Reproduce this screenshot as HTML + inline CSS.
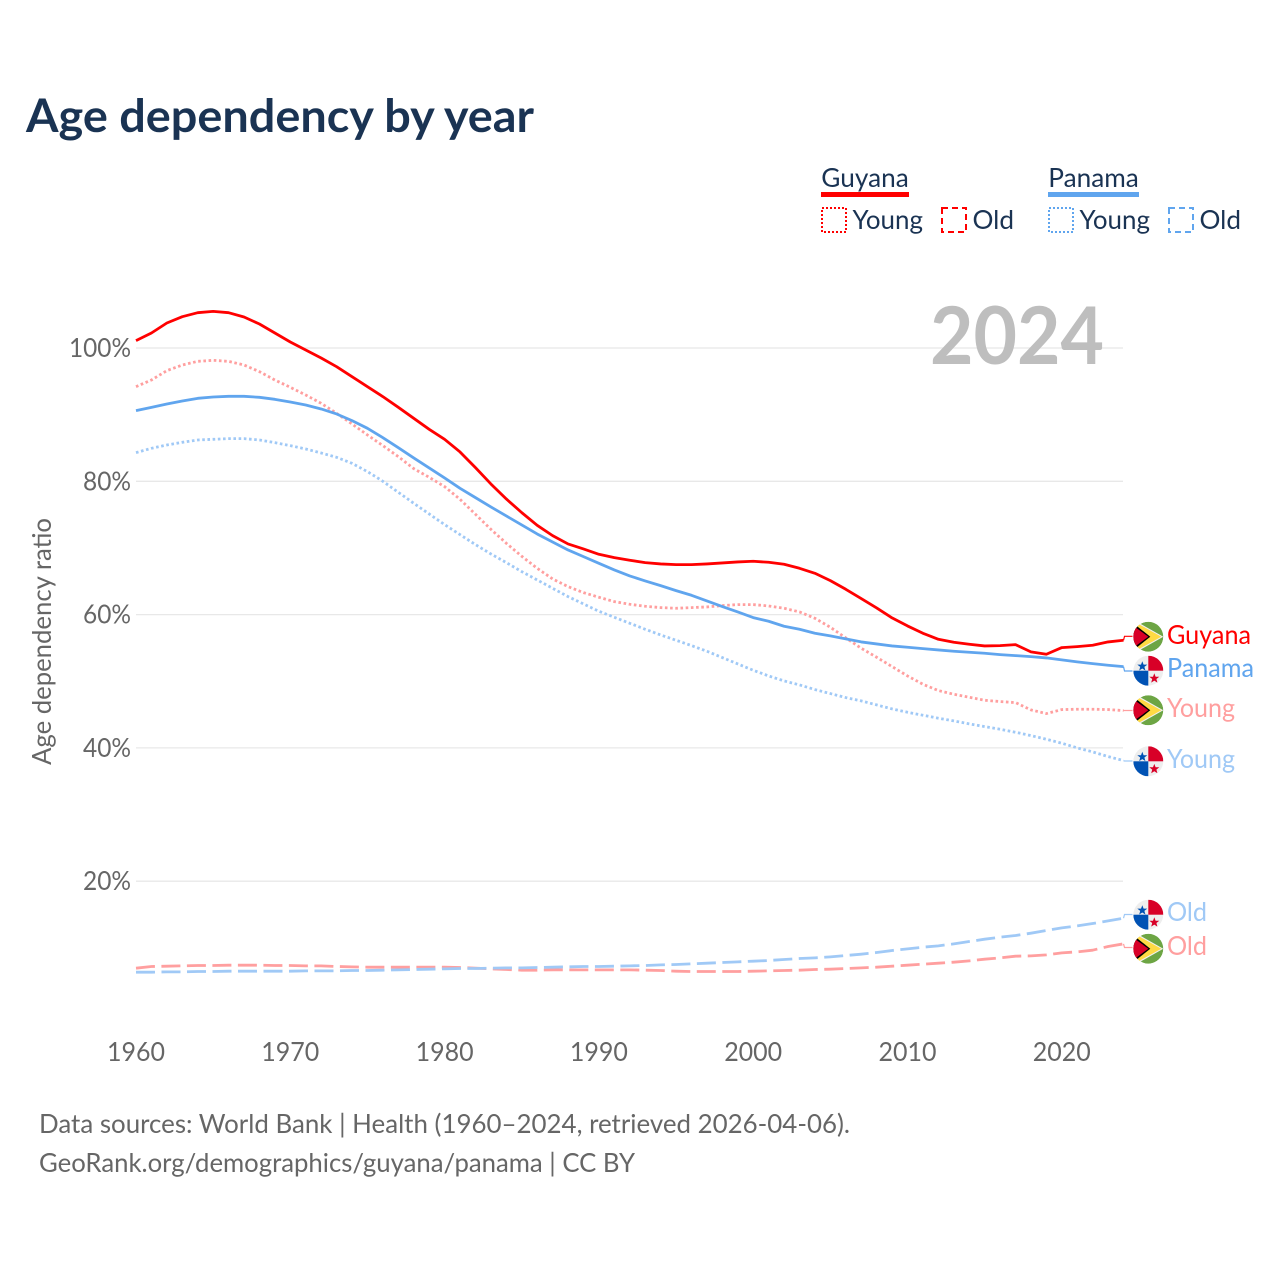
<!DOCTYPE html>
<html lang="en">
<head>
<meta charset="utf-8">
<title>Age dependency by year</title>
<style>
html,body{margin:0;padding:0;background:#fff;}
svg{display:block;}
text{font-family:"Lato","Carlito","Liberation Sans",sans-serif;}
</style>
</head>
<body>
<svg id="chart" xmlns="http://www.w3.org/2000/svg" width="1280" height="1280" viewBox="0 0 1280 1280">
  <defs>
    <clipPath id="flag-clip"><circle cx="0" cy="0" r="15"/></clipPath>
    <g id="flag-guyana" clip-path="url(#flag-clip)">
      <circle r="15" fill="#6da544"/>
      <path d="M-15 -17 L15 0 L-15 17 Z" fill="#f0f0f0"/>
      <path d="M-14 -15 L13 0 L-14 15 Z" fill="#ffda44"/>
      <path d="M-15 -13.5 L2 0 L-15 13.5 Z" fill="#000"/>
      <path d="M-15 -11 L0 0 L-15 11 Z" fill="#d80027"/>
    </g>
    <g id="flag-panama" clip-path="url(#flag-clip)">
      <circle r="15" fill="#eeeeee"/>
      <rect x="0" y="-15" width="15" height="15" fill="#d80027"/>
      <rect x="-15" y="0" width="15" height="15" fill="#0052b4"/>
      <path d="M-6 -9.5 L-4.7 -6.1 L-1 -6.1 L-3.9 -3.8 L-2.9 -0.2 L-6 -2.2 L-9.1 -0.2 L-8.1 -3.8 L-11 -6.1 L-7.3 -6.1 Z" fill="#0052b4"/>
      <path d="M6 2.6 L7.3 6 L11 6 L8.1 8.3 L9.1 11.9 L6 9.9 L2.9 11.9 L3.9 8.3 L1 6 L4.7 6 Z" fill="#d80027"/>
    </g>
  </defs>

  <rect x="0" y="0" width="1280" height="1280" fill="#ffffff"/>

  <text x="26" y="132" font-size="46" font-weight="700" fill="#1a3353" textLength="508" lengthAdjust="spacingAndGlyphs">Age dependency by year</text>

  <g>
    <text x="821.3" y="187" font-size="26" fill="#1a3353" textLength="87.5" lengthAdjust="spacingAndGlyphs">Guyana</text>
    <rect x="821" y="192" width="88" height="5" fill="#ff0000"/>
    <rect x="822" y="208" width="24" height="24" fill="none" stroke="#ff0000" stroke-width="2" stroke-dasharray="2 2"/>
    <text x="852.5" y="229" font-size="26" fill="#1a3353" textLength="70.5" lengthAdjust="spacingAndGlyphs">Young</text>
    <rect x="942" y="208" width="24" height="24" fill="none" stroke="#ff0000" stroke-width="2" stroke-dasharray="6 4"/>
    <text x="972.5" y="229" font-size="26" fill="#1a3353" textLength="41.5" lengthAdjust="spacingAndGlyphs">Old</text>

    <text x="1048.3" y="187" font-size="26" fill="#1a3353" textLength="90.5" lengthAdjust="spacingAndGlyphs">Panama</text>
    <rect x="1048" y="192" width="91" height="5" fill="#60a5ee"/>
    <rect x="1049" y="208" width="24" height="24" fill="none" stroke="#60a5ee" stroke-width="2" stroke-dasharray="2 2"/>
    <text x="1079.5" y="229" font-size="26" fill="#1a3353" textLength="70.5" lengthAdjust="spacingAndGlyphs">Young</text>
    <rect x="1169" y="208" width="24" height="24" fill="none" stroke="#60a5ee" stroke-width="2" stroke-dasharray="6 4"/>
    <text x="1199.5" y="229" font-size="26" fill="#1a3353" textLength="41.5" lengthAdjust="spacingAndGlyphs">Old</text>
  </g>

  <g id="grid"></g>
  <g id="y-ticks"></g>
  <g id="x-ticks"></g>

  <text x="930" y="364" font-size="80" font-weight="700" fill="#bebebe" textLength="174" lengthAdjust="spacingAndGlyphs">2024</text>

  <text transform="translate(51 765) rotate(-90)" x="0" y="0" font-size="26" fill="#666666" textLength="247" lengthAdjust="spacingAndGlyphs">Age dependency ratio</text>

  <g id="series"></g>

  <g>
    <use href="#flag-guyana" x="1148.3" y="636.7"/>
    <use href="#flag-panama" x="1148.3" y="670.7"/>
    <use href="#flag-guyana" x="1148.3" y="710.3"/>
    <use href="#flag-panama" x="1148.3" y="761.3"/>
    <use href="#flag-panama" x="1148.3" y="914.7"/>
    <use href="#flag-guyana" x="1148.3" y="948.7"/>
    <text x="1167" y="644" font-size="26" fill="#ff0000" textLength="84" lengthAdjust="spacingAndGlyphs">Guyana</text>
    <text x="1167" y="677" font-size="26" fill="#60a5ee" textLength="87" lengthAdjust="spacingAndGlyphs">Panama</text>
    <text x="1167" y="717" font-size="26" fill="#ff9f9f" textLength="68" lengthAdjust="spacingAndGlyphs">Young</text>
    <text x="1167" y="768" font-size="26" fill="#a0c9f6" textLength="68" lengthAdjust="spacingAndGlyphs">Young</text>
    <text x="1167" y="921" font-size="26" fill="#a0c9f6" textLength="40" lengthAdjust="spacingAndGlyphs">Old</text>
    <text x="1167" y="955" font-size="26" fill="#ff9f9f" textLength="40" lengthAdjust="spacingAndGlyphs">Old</text>
  </g>

  <text x="39" y="1133" font-size="26" fill="#666666" textLength="811" lengthAdjust="spacingAndGlyphs">Data sources: World Bank | Health (1960–2024, retrieved 2026-04-06).</text>
  <text x="39" y="1172" font-size="26" fill="#666666" textLength="596" lengthAdjust="spacingAndGlyphs">GeoRank.org/demographics/guyana/panama | CC BY</text>
</svg>

<script>
const startYear = 1960;
const yearTicks = [1960, 1970, 1980, 1990, 2000, 2010, 2020];
const percentTicks = [20, 40, 60, 80, 100];

const guyanaTotal = [101.1,102.25,103.75,104.7,105.3,105.5,105.3,104.65,103.6,102.25,100.9,99.7,98.5,97.2,95.7,94.2,92.7,91.1,89.45,87.8,86.3,84.4,82.05,79.6,77.35,75.3,73.4,71.85,70.6,69.85,69.05,68.55,68.15,67.8,67.6,67.5,67.5,67.6,67.75,67.9,68.0,67.85,67.55,66.95,66.2,65.1,63.8,62.4,61.0,59.5,58.3,57.2,56.3,55.85,55.55,55.3,55.35,55.5,54.4,54.05,55.05,55.2,55.4,55.9,56.15];
const panamaTotal = [90.6,91.1,91.6,92.05,92.45,92.65,92.75,92.75,92.6,92.3,91.9,91.45,90.85,90.1,89.1,87.95,86.55,85.05,83.5,82.0,80.5,78.95,77.55,76.15,74.8,73.45,72.1,70.9,69.7,68.7,67.7,66.7,65.8,65.05,64.35,63.6,62.9,62.05,61.2,60.4,59.55,59.0,58.25,57.8,57.2,56.8,56.35,55.9,55.6,55.3,55.1,54.9,54.7,54.5,54.35,54.2,54.0,53.85,53.7,53.5,53.2,52.9,52.65,52.4,52.2];
const guyanaYoung = [94.2,95.2,96.6,97.45,98.0,98.15,98.0,97.45,96.45,95.2,94.1,92.95,91.7,90.2,88.6,86.95,85.35,83.7,81.9,80.6,79.2,77.3,75.05,72.8,70.7,68.75,66.95,65.35,64.2,63.3,62.6,61.95,61.55,61.25,61.05,60.95,61.05,61.15,61.35,61.5,61.5,61.3,60.95,60.4,59.45,58.1,56.5,54.95,53.6,52.2,50.8,49.55,48.6,48.05,47.6,47.15,46.95,46.8,45.7,45.15,45.75,45.8,45.8,45.75,45.6];
const panamaYoung = [84.3,84.95,85.45,85.85,86.2,86.3,86.4,86.4,86.2,85.8,85.35,84.85,84.25,83.6,82.7,81.45,80.0,78.35,76.7,75.1,73.5,72.0,70.5,69.1,67.8,66.45,65.2,63.95,62.7,61.6,60.5,59.6,58.7,57.8,56.95,56.15,55.35,54.5,53.55,52.6,51.65,50.8,50.05,49.45,48.75,48.15,47.55,47.05,46.45,45.85,45.35,44.9,44.45,44.05,43.6,43.2,42.8,42.35,41.85,41.3,40.7,40.0,39.4,38.7,38.1];
const guyanaOld = [6.95,7.2,7.25,7.3,7.35,7.35,7.4,7.4,7.4,7.35,7.35,7.3,7.3,7.2,7.15,7.1,7.1,7.1,7.1,7.1,7.1,7.05,6.95,6.85,6.75,6.65,6.65,6.7,6.7,6.7,6.7,6.7,6.7,6.65,6.6,6.5,6.45,6.45,6.45,6.45,6.5,6.55,6.6,6.65,6.75,6.8,6.9,7.0,7.1,7.25,7.4,7.55,7.7,7.85,8.05,8.3,8.5,8.75,8.8,8.95,9.25,9.4,9.65,10.2,10.6];
const panamaOld = [6.35,6.35,6.4,6.4,6.45,6.45,6.5,6.5,6.5,6.5,6.5,6.55,6.55,6.55,6.6,6.6,6.65,6.7,6.75,6.8,6.85,6.9,6.9,6.95,7.0,7.0,7.05,7.1,7.15,7.2,7.2,7.25,7.3,7.35,7.45,7.5,7.6,7.7,7.8,7.9,8.0,8.1,8.25,8.4,8.5,8.65,8.85,9.05,9.3,9.6,9.85,10.1,10.3,10.6,10.95,11.3,11.6,11.85,12.2,12.6,13.0,13.3,13.65,14.05,14.45];

const svgNS = "http://www.w3.org/2000/svg";
function xScale(year) { return 136 + (year - 1960) * 15.43; }
function yScale(pct) { return 1014.5 - pct * 6.665; }

const gridLayer = document.getElementById("grid");
const yLayer = document.getElementById("y-ticks");
const xLayer = document.getElementById("x-ticks");
const seriesLayer = document.getElementById("series");

percentTicks.forEach(function (tick) {
  const line = document.createElementNS(svgNS, "line");
  
  
  line.setAttribute("x1", 136);
  line.setAttribute("x2", 1123);
  line.setAttribute("y1", yScale(tick));
  line.setAttribute("y2", yScale(tick));
  line.setAttribute("stroke", "#e8e8e8");
  line.setAttribute("stroke-width", "1.3");
  gridLayer.appendChild(line);

  const label = document.createElementNS(svgNS, "text");
  
  
  const labelText = tick + "%";
  const labelWidth = labelText.length === 4 ? 62 : 48;
  label.setAttribute("x", 131 - labelWidth);
  label.setAttribute("y", yScale(tick) + 9);
  label.setAttribute("font-size", "26");
  label.setAttribute("fill", "#666666");
  label.setAttribute("textLength", labelWidth);
  label.setAttribute("lengthAdjust", "spacingAndGlyphs");
  label.textContent = labelText;
  yLayer.appendChild(label);
});

yearTicks.forEach(function (year) {
  const label = document.createElementNS(svgNS, "text");
  
  
  label.setAttribute("x", xScale(year) - 29);
  label.setAttribute("y", 1061);
  label.setAttribute("font-size", "26");
  label.setAttribute("fill", "#666666");
  label.setAttribute("textLength", 58);
  label.setAttribute("lengthAdjust", "spacingAndGlyphs");
  label.textContent = String(year);
  xLayer.appendChild(label);
});

function drawSeries(values, name, color, width, dash, flagY) {
  const points = values.map(function (v, i) {
    return xScale(startYear + i).toFixed(2) + "," + yScale(v).toFixed(2);
  });
  const line = document.createElementNS(svgNS, "polyline");
  
  
  line.setAttribute("points", points.join(" "));
  line.setAttribute("fill", "none");
  line.setAttribute("stroke", color);
  line.setAttribute("stroke-width", width);
  line.setAttribute("stroke-linejoin", "round");
  if (dash) { line.setAttribute("stroke-dasharray", dash); }
  seriesLayer.appendChild(line);

  const endX = xScale(startYear + values.length - 1);
  const leader = document.createElementNS(svgNS, "polyline");
  
  
  leader.setAttribute("points", endX + "," + yScale(values[values.length - 1]) + " " + (endX + 1) + "," + flagY + " " + (endX + 9) + "," + flagY);
  leader.setAttribute("fill", "none");
  leader.setAttribute("stroke", color);
  leader.setAttribute("stroke-width", "1.2");
  seriesLayer.appendChild(leader);
}

drawSeries(guyanaOld, "line-guyana-old", "#ff9f9f", 2.8, "19 6.5", 947.5);
drawSeries(panamaOld, "line-panama-old", "#a0c9f6", 2.8, "19 6.5", 914.5);
drawSeries(panamaYoung, "line-panama-young", "#a0c9f6", 2.8, "2.6 2.6", 761);
drawSeries(guyanaYoung, "line-guyana-young", "#ff9f9f", 2.8, "2.6 2.6", 710.5);
drawSeries(panamaTotal, "line-panama-total", "#60a5ee", 2.8, null, 671);
drawSeries(guyanaTotal, "line-guyana-total", "#ff0000", 2.8, null, 636.3);
</script>
</body>
</html>
